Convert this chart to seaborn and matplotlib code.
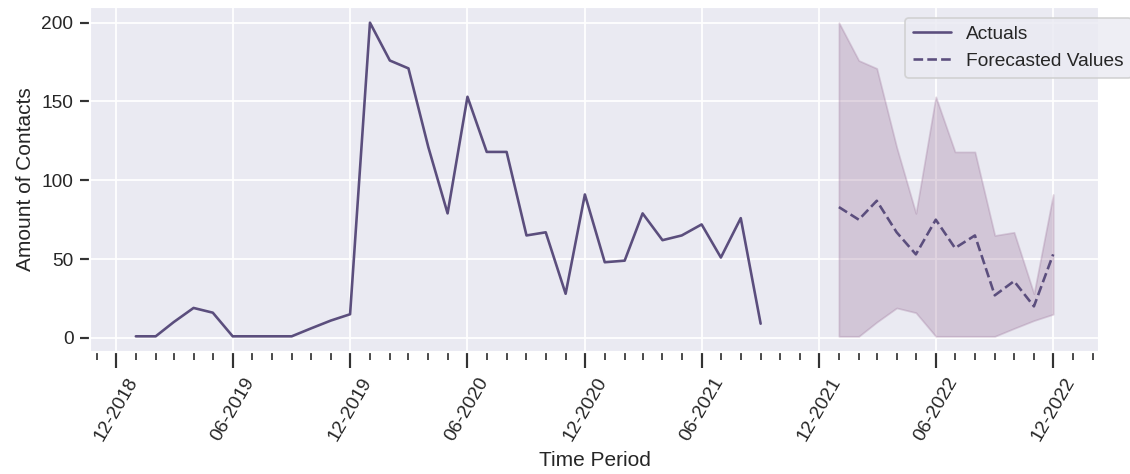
import numpy as np
import pandas as pd
import matplotlib
matplotlib.use("Agg")
import matplotlib.pyplot as plt
import matplotlib.dates as mdates
from matplotlib.ticker import MultipleLocator
import seaborn as sns

# Monthly contact counts (actuals), Jan 2019 - Sep 2021
actual_months = pd.date_range("2019-01-01", "2021-09-01", freq="MS")
actual_values = [1, 1, 10, 19, 16, 1, 1, 1, 1, 6, 11, 15,
                 200, 176, 171, 121, 79, 153, 118, 118, 65, 67, 28, 91,
                 48, 49, 79, 62, 65, 72, 51, 76, 9]

# Forecast for 2022 with lower / upper band
forecast_months = pd.date_range("2022-01-01", "2022-12-01", freq="MS")
forecast_values = [83, 75, 87, 67, 53, 75, 57, 65, 27, 36, 20, 53]
forecast_lower = [1, 1, 10, 19, 16, 1, 1, 1, 1, 6, 11, 15]
forecast_upper = [200, 176, 171, 121, 79, 153, 118, 118, 65, 67, 28, 91]

line_color = "#5b4e7d"
band_color = "#9d759b"

sns.set_theme(style="darkgrid", context="notebook")
plt.rcParams["font.family"] = ["Liberation Sans", "DejaVu Sans"]
plt.rcParams["xtick.bottom"] = True
plt.rcParams["ytick.left"] = True

fig, ax = plt.subplots(figsize=(9.04, 3.792), dpi=125)
fig.subplots_adjust(left=0.0796, right=0.9726, top=0.9852, bottom=0.2574)

actual_df = pd.DataFrame({"date": actual_months, "value": actual_values})
forecast_df = pd.DataFrame({"date": forecast_months, "value": forecast_values,
                            "lower": forecast_lower, "upper": forecast_upper})

sns.lineplot(data=actual_df, x="date", y="value", color=line_color,
             label="Actuals", ax=ax)
ax.fill_between(forecast_df["date"], forecast_df["lower"], forecast_df["upper"],
                color=band_color, alpha=0.3)
sns.lineplot(data=forecast_df, x="date", y="value", color=line_color,
             linestyle="--", label="Forecasted Values", ax=ax)

ax.xaxis.set_major_locator(mdates.MonthLocator(bymonth=[6, 12]))
ax.xaxis.set_minor_locator(mdates.MonthLocator())
ax.xaxis.set_major_formatter(mdates.DateFormatter("%m-%Y"))
ax.yaxis.set_major_locator(MultipleLocator(50))
ax.tick_params(axis="x", which="major", length=9.5, width=1.25, color="#333333")
ax.tick_params(axis="x", which="minor", length=4.5, width=1.0, color="#333333")
ax.tick_params(axis="y", which="major", length=6, width=1.25, color="#333333")
plt.setp(ax.get_xticklabels(), rotation=60)

ax.set_xlabel("Time Period")
ax.set_ylabel("Amount of Contacts")

ax.legend(loc="upper left", bbox_to_anchor=(0.808, 0.968), borderaxespad=0)

fig.savefig("out.png", dpi=125)
